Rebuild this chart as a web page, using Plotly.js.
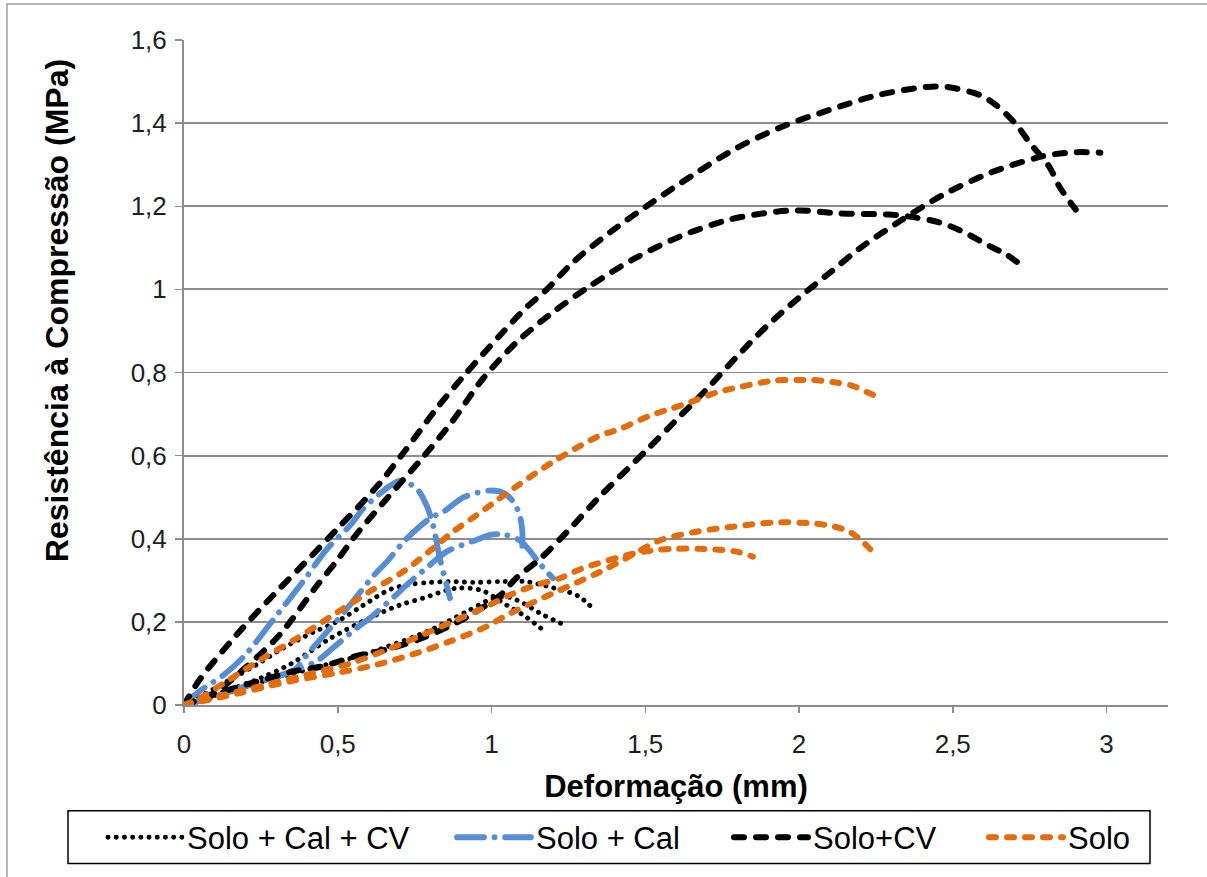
<!DOCTYPE html>
<html>
<head>
<meta charset="utf-8">
<script src="https://cdn.plot.ly/plotly-3.0.1.min.js"></script>
<style>
  html, body { margin: 0; padding: 0; background: #ffffff; }
  #chart { width: 1207px; height: 877px; }
  /* rounded ends for every dash and dot, in the plot and in the legend */
  #chart .js-line { stroke-linecap: round; stroke-linejoin: round; }
</style>
</head>
<body>
<div id="chart"></div>
<script>
// Deformação (mm) vs Resistência à Compressão (MPa), three specimens per mix

// Solo + Cal + CV
const soloCalCv1X = [0, 0.1, 0.236, 0.323, 0.42, 0.496, 0.583, 0.67, 0.734, 0.8, 0.865, 0.95, 1.03, 1.11, 1.2, 1.28, 1.33];
const soloCalCv1Y = [0, 0.04, 0.097, 0.137, 0.175, 0.2, 0.24, 0.278, 0.29, 0.295, 0.297, 0.295, 0.297, 0.297, 0.282, 0.263, 0.232];
const soloCalCv2X = [0, 0.12, 0.25, 0.35, 0.475, 0.626, 0.7, 0.777, 0.886, 0.97, 1.05, 1.11, 1.18];
const soloCalCv2Y = [0, 0.03, 0.065, 0.1, 0.16, 0.217, 0.24, 0.257, 0.281, 0.275, 0.24, 0.213, 0.173];
const soloCalCv3X = [0, 0.2, 0.4, 0.6, 0.8, 0.92, 1.0, 1.05, 1.09, 1.17, 1.245];
const soloCalCv3Y = [0, 0.045, 0.085, 0.125, 0.18, 0.225, 0.255, 0.26, 0.25, 0.216, 0.19];

// Solo + Cal
const soloCal1X = [0, 0.05, 0.13, 0.2, 0.29, 0.39, 0.466, 0.54, 0.58, 0.617, 0.672, 0.704, 0.757, 0.789, 0.81, 0.832, 0.854, 0.865];
const soloCal1Y = [0, 0.033, 0.073, 0.121, 0.205, 0.3, 0.376, 0.432, 0.47, 0.496, 0.528, 0.54, 0.52, 0.48, 0.432, 0.353, 0.289, 0.257];
const soloCal2X = [0, 0.1, 0.2, 0.32, 0.36, 0.41, 0.47, 0.55, 0.615, 0.66, 0.72, 0.8, 0.85, 0.91, 0.997, 1.04, 1.07, 1.09, 1.1, 1.1];
const soloCal2Y = [0, 0.02, 0.045, 0.073, 0.085, 0.13, 0.18, 0.25, 0.31, 0.345, 0.397, 0.449, 0.468, 0.5, 0.516, 0.51, 0.49, 0.46, 0.42, 0.38];
const soloCal3X = [0, 0.1, 0.2, 0.32, 0.43, 0.484, 0.561, 0.604, 0.69, 0.724, 0.8, 0.854, 0.95, 1.0, 1.04, 1.09, 1.12, 1.157, 1.2];
const soloCal3Y = [0, 0.02, 0.045, 0.073, 0.105, 0.137, 0.185, 0.209, 0.265, 0.289, 0.337, 0.369, 0.397, 0.41, 0.41, 0.397, 0.375, 0.34, 0.305];

// Solo+CV
const soloCv1X = [0, 0.05, 0.17, 0.29, 0.39, 0.5, 0.63, 0.715, 0.82, 0.91, 1.037, 1.114, 1.18, 1.265, 1.394, 1.504, 1.655, 1.797, 1.947, 2.1, 2.26, 2.415, 2.48, 2.587, 2.64, 2.707, 2.75, 2.814, 2.847, 2.9];
const soloCv1Y = [0, 0.06, 0.168, 0.264, 0.34, 0.425, 0.528, 0.608, 0.712, 0.792, 0.897, 0.957, 1.0, 1.065, 1.142, 1.2, 1.275, 1.34, 1.392, 1.432, 1.468, 1.487, 1.487, 1.468, 1.444, 1.396, 1.353, 1.295, 1.247, 1.192];
const soloCv2X = [0, 0.1, 0.2, 0.3, 0.345, 0.43, 0.5, 0.56, 0.66, 0.77, 0.87, 0.972, 1.082, 1.2, 1.32, 1.46, 1.612, 1.775, 1.927, 2.0, 2.13, 2.29, 2.36, 2.457, 2.53, 2.62, 2.674, 2.728];
const soloCv2Y = [0, 0.03, 0.09, 0.16, 0.2, 0.285, 0.35, 0.41, 0.497, 0.59, 0.68, 0.785, 0.873, 0.945, 1.008, 1.072, 1.127, 1.168, 1.187, 1.19, 1.183, 1.18, 1.175, 1.161, 1.14, 1.104, 1.084, 1.055];
const soloCv3X = [0, 0.13, 0.24, 0.35, 0.45, 0.57, 0.65, 0.76, 0.87, 0.95, 1.03, 1.08, 1.16, 1.25, 1.35, 1.5, 1.6, 1.7, 1.8, 1.9, 2.0, 2.1, 2.2, 2.33, 2.47, 2.62, 2.75, 2.81, 2.9, 2.98];
const soloCv3Y = [0, 0.033, 0.057, 0.08, 0.093, 0.12, 0.132, 0.157, 0.192, 0.225, 0.265, 0.305, 0.353, 0.42, 0.5, 0.61, 0.685, 0.76, 0.84, 0.915, 0.98, 1.04, 1.1, 1.165, 1.228, 1.28, 1.312, 1.323, 1.33, 1.329];

// Solo
const solo1X = [0, 0.052, 0.139, 0.258, 0.366, 0.484, 0.604, 0.713, 0.81, 0.875, 0.952, 1.004, 1.06, 1.2, 1.352, 1.417, 1.514, 1.58, 1.645, 1.732, 1.807, 1.914, 2.0, 2.045, 2.11, 2.174, 2.22, 2.272];
const solo1Y = [0, 0.017, 0.057, 0.113, 0.16, 0.216, 0.273, 0.321, 0.377, 0.417, 0.457, 0.485, 0.515, 0.585, 0.648, 0.664, 0.696, 0.712, 0.728, 0.752, 0.765, 0.78, 0.782, 0.782, 0.777, 0.768, 0.753, 0.736];
const solo2X = [0, 0.182, 0.345, 0.496, 0.626, 0.756, 0.865, 0.984, 1.06, 1.2, 1.352, 1.46, 1.547, 1.667, 1.785, 1.914, 2.045, 2.11, 2.164, 2.207, 2.25];
const solo2Y = [0, 0.029, 0.057, 0.077, 0.097, 0.125, 0.153, 0.189, 0.22, 0.269, 0.32, 0.362, 0.396, 0.417, 0.429, 0.439, 0.437, 0.43, 0.417, 0.393, 0.36];
const solo3X = [0, 0.128, 0.269, 0.4, 0.54, 0.647, 0.777, 0.886, 0.984, 1.06, 1.146, 1.222, 1.297, 1.46, 1.525, 1.6, 1.677, 1.73, 1.797, 1.85];
const solo3Y = [0, 0.024, 0.049, 0.073, 0.1, 0.129, 0.169, 0.205, 0.237, 0.265, 0.289, 0.305, 0.329, 0.364, 0.372, 0.376, 0.376, 0.374, 0.369, 0.357];

const seriesNames = ['Solo + Cal + CV', 'Solo + Cal', 'Solo+CV', 'Solo'];

const xTickVals = [0, 0.5, 1, 1.5, 2, 2.5, 3];
const xTickText = ['0', '0,5', '1', '1,5', '2', '2,5', '3'];
const yTickVals = [0, 0.2, 0.4, 0.6, 0.8, 1, 1.2, 1.4, 1.6];
const yTickText = ['0', '0,2', '0,4', '0,6', '0,8', '1', '1,2', '1,4', '1,6'];

// line look of each mix
const styles = [
  { color: '#000000', width: 4.9, dash: '0.1px,8.1px' },
  { color: '#558ED5', width: 5.8, dash: '27px,10.5px,0.1px,10.5px' },
  { color: '#000000', width: 6, dash: '10px,12px' },
  { color: '#E46C0A', width: 6, dash: '7px,11px' }
];

const groups = [
  [[soloCalCv1X, soloCalCv1Y], [soloCalCv2X, soloCalCv2Y], [soloCalCv3X, soloCalCv3Y]],
  [[soloCal1X, soloCal1Y], [soloCal2X, soloCal2Y], [soloCal3X, soloCal3Y]],
  [[soloCv1X, soloCv1Y], [soloCv2X, soloCv2Y], [soloCv3X, soloCv3Y]],
  [[solo1X, solo1Y], [solo2X, solo2Y], [solo3X, solo3Y]]
];

const legendIds = ['legend', 'legend2', 'legend3', 'legend4'];

const traces = [];
groups.forEach(function (curves, g) {
  curves.forEach(function (xy, i) {
    traces.push({
      type: 'scatter',
      mode: 'lines',
      x: xy[0],
      y: xy[1],
      name: seriesNames[g],
      legendgroup: seriesNames[g],
      legend: legendIds[g],
      showlegend: i === 0,
      hoverinfo: 'skip',
      line: { color: styles[g].color, width: styles[g].width, dash: styles[g].dash, shape: 'spline', smoothing: 0.9 }
    });
  });
});

const FONT = 'Liberation Sans, Arial, sans-serif';
const GRID = '#8c8c8c';

// plot area: left 184, right 1168, top 40, bottom 707
const L = 184, R = 1168, T = 40, B = 707;
const px = function (v) { return (v - L) / (R - L); };
const py = function (v) { return (B - v) / (B - T); };

function legendAt(left) {
  return {
    x: px(left), y: py(840), xanchor: 'left', yanchor: 'middle',
    orientation: 'h', bgcolor: 'rgba(0,0,0,0)', borderwidth: 0,
    itemwidth: 74, itemclick: false, itemdoubleclick: false,
    font: { family: FONT, size: 31, color: '#000000' }
  };
}

const layout = {
  width: 1207,
  height: 877,
  margin: { l: L, r: 1207 - R, t: T, b: 877 - B, pad: 0 },
  paper_bgcolor: '#ffffff',
  plot_bgcolor: '#ffffff',
  xaxis: {
    range: [0, 3.2],
    tickvals: xTickVals,
    ticktext: xTickText,
    showgrid: false,
    zeroline: false,
    showline: true,
    linecolor: GRID,
    linewidth: 2,
    ticks: 'outside',
    ticklen: 6,
    tickwidth: 1.5,
    tickcolor: GRID,
    ticklabelstandoff: 9,
    tickfont: { family: FONT, size: 26, color: '#1e1e1e' },
    title: { text: 'Deformação (mm)', font: { family: FONT, size: 31, color: '#000000', weight: 700 }, standoff: 17 }
  },
  yaxis: {
    range: [0, 1.6],
    tickvals: yTickVals,
    ticktext: yTickText,
    showgrid: true,
    gridcolor: GRID,
    gridwidth: 1.8,
    zeroline: false,
    showline: true,
    linecolor: GRID,
    linewidth: 2,
    ticks: 'outside',
    ticklen: 7,
    tickwidth: 1.5,
    tickcolor: GRID,
    ticklabelstandoff: 3,
    tickfont: { family: FONT, size: 26, color: '#1e1e1e' }
  },
  annotations: [{
    text: 'Resistência à Compressão (MPa)',
    textangle: -90,
    xref: 'paper', yref: 'paper',
    x: px(57), y: py(312),
    xanchor: 'center', yanchor: 'middle',
    showarrow: false,
    font: { family: FONT, size: 32, color: '#000000', weight: 700 }
  }],
  shapes: [
    // outer chart frame
    { type: 'rect', xref: 'paper', yref: 'paper', x0: px(7), x1: px(1215), y0: py(885), y1: py(4),
      line: { color: '#a0a0a0', width: 1.5 }, fillcolor: 'rgba(0,0,0,0)', layer: 'below' },
    // legend box
    { type: 'rect', xref: 'paper', yref: 'paper', x0: px(68), x1: px(1150), y0: py(866), y1: py(813),
      line: { color: '#000000', width: 1.5 }, fillcolor: 'rgba(0,0,0,0)' }
  ],
  legend: legendAt(103),
  legend2: legendAt(452),
  legend3: legendAt(729),
  legend4: legendAt(984),
  separators: ',.'
};

Plotly.newPlot('chart', traces, layout, { displayModeBar: false, staticPlot: true });
</script>
</body>
</html>
